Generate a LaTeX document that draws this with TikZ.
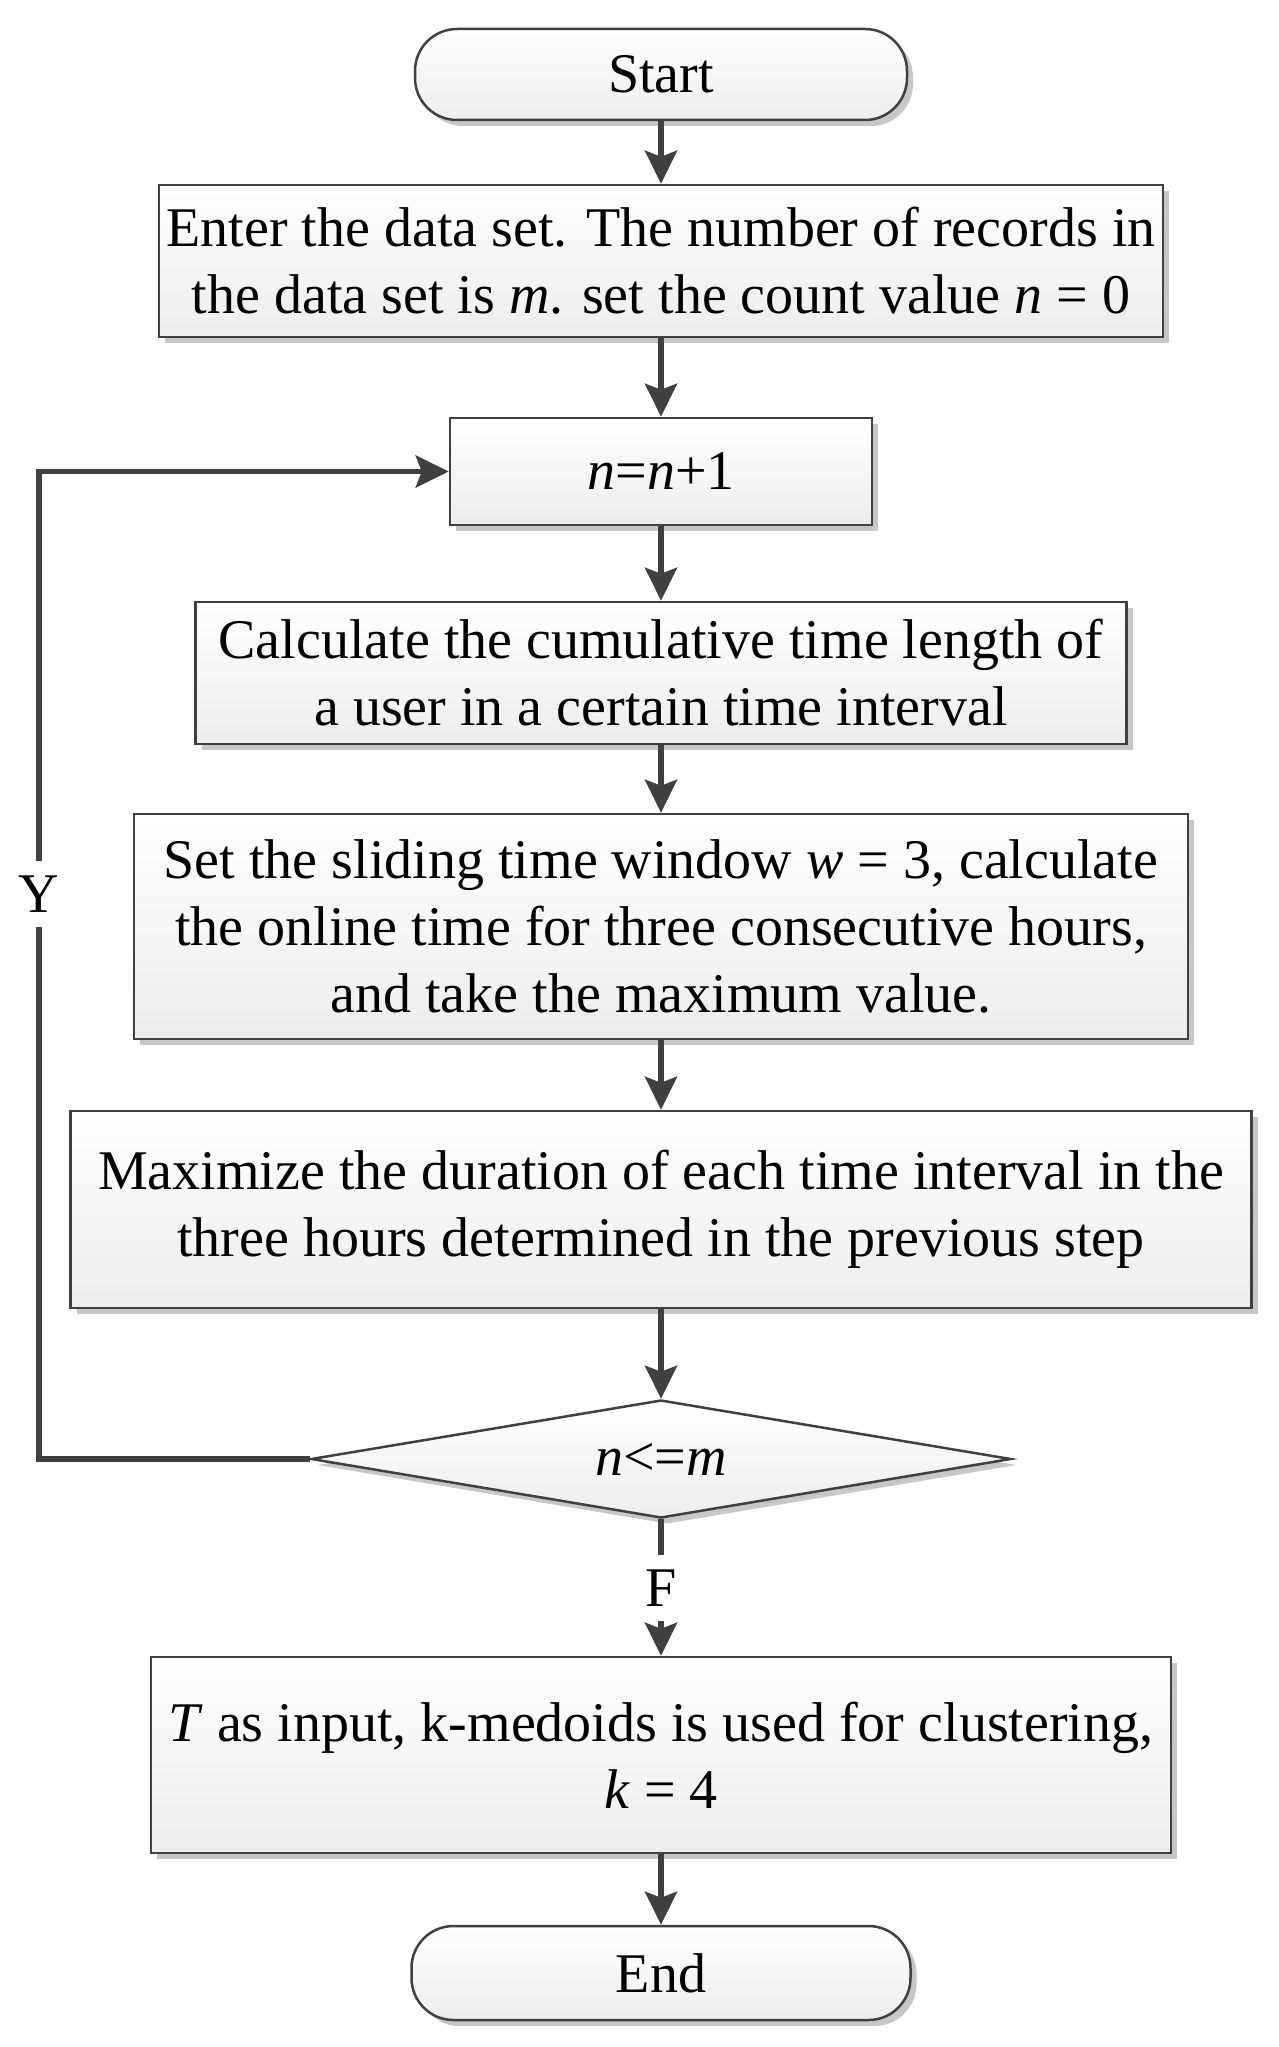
\documentclass[tikz,border=0pt]{standalone}
\usepackage{fontspec}
\setmainfont{Liberation Serif}
\usetikzlibrary{shapes.geometric,shadows,arrows.meta}
\definecolor{ln}{HTML}{404040}
\newcommand{\fsz}{\fontsize{56}{67}\selectfont}
\begin{document}
\begin{tikzpicture}[x=1pt,y=1pt,
  box/.style={draw=ln, line width=2.5pt, top color=white, bottom color=black!7,
    drop shadow={shadow xshift=6pt, shadow yshift=-6pt, fill=black!22, opacity=1},
    align=center, inner sep=0pt, font=\fsz},
  term/.style={box, rounded corners=42pt},
  dec/.style={box, diamond, aspect=6},
  arr/.style={draw=ln, line width=5.5pt, -{Stealth[length=33pt, width=32pt, inset=6pt]}},
  plain/.style={draw=ln, line width=5.5pt},
  lbl/.style={font=\fsz, inner sep=0pt}
]
\useasboundingbox (0,0) rectangle (1279,-2047);
\node[term, minimum width=492pt, minimum height=91pt] (st) at (661,-74.5) {Start};
\node[box, minimum width=1004pt, minimum height=152pt] (b1) at (661,-261)
  {Enter the data set. The number of records in\\the data set is \textit{m}. set the count value \textit{n} = 0};
\node[box, minimum width=422pt, minimum height=107pt] (b2) at (661,-471.5)
  {\textit{n}=\textit{n}+1};
\node[box, minimum width=931pt, minimum height=142pt] (b3) at (661,-673)
  {Calculate the cumulative time length of\\a user in a certain time interval};
\node[box, minimum width=1054pt, minimum height=225pt] (b4) at (661,-926.5)
  {Set the sliding time window \textit{w} = 3, calculate\\the online time for three consecutive hours,\\and take the maximum value.};
\node[box, minimum width=1181pt, minimum height=197pt] (b5) at (661,-1209.5)
  {Maximize the duration of each time interval in the\\three hours determined in the previous step};
\node[dec, minimum width=700pt, minimum height=118pt] (dia) at (661,-1459)
  {\textit{n}<=\textit{m}};
\node[box, minimum width=1020pt, minimum height=196pt] (b6) at (661,-1755)
  {\textit{T} as input, k-medoids is used for clustering,\\\textit{k} = 4};
\node[term, minimum width=499pt, minimum height=94pt] (en) at (661,-1973) {End};

\draw[arr] (st) -- (b1);
\draw[arr] (b1) -- (b2);
\draw[arr] (b2) -- (b3);
\draw[arr] (b3) -- (b4);
\draw[arr] (b4) -- (b5);
\draw[arr] (b5) -- (dia);
\coordinate (lp) at (39,-1459);
\draw[arr] (dia.west) -- (lp) |- (b2.west);
\node[lbl, fill=white, inner ysep=15pt, inner xsep=3pt] (Y) at (39,-894) {Y};
\node[lbl, inner ysep=14pt] (F) at (661,-1588) {F};
\draw[plain] (dia.south) -- (F.north);
\draw[arr] (F.south) -- (b6.north);
\draw[arr] (b6) -- (en);
\end{tikzpicture}
\end{document}
